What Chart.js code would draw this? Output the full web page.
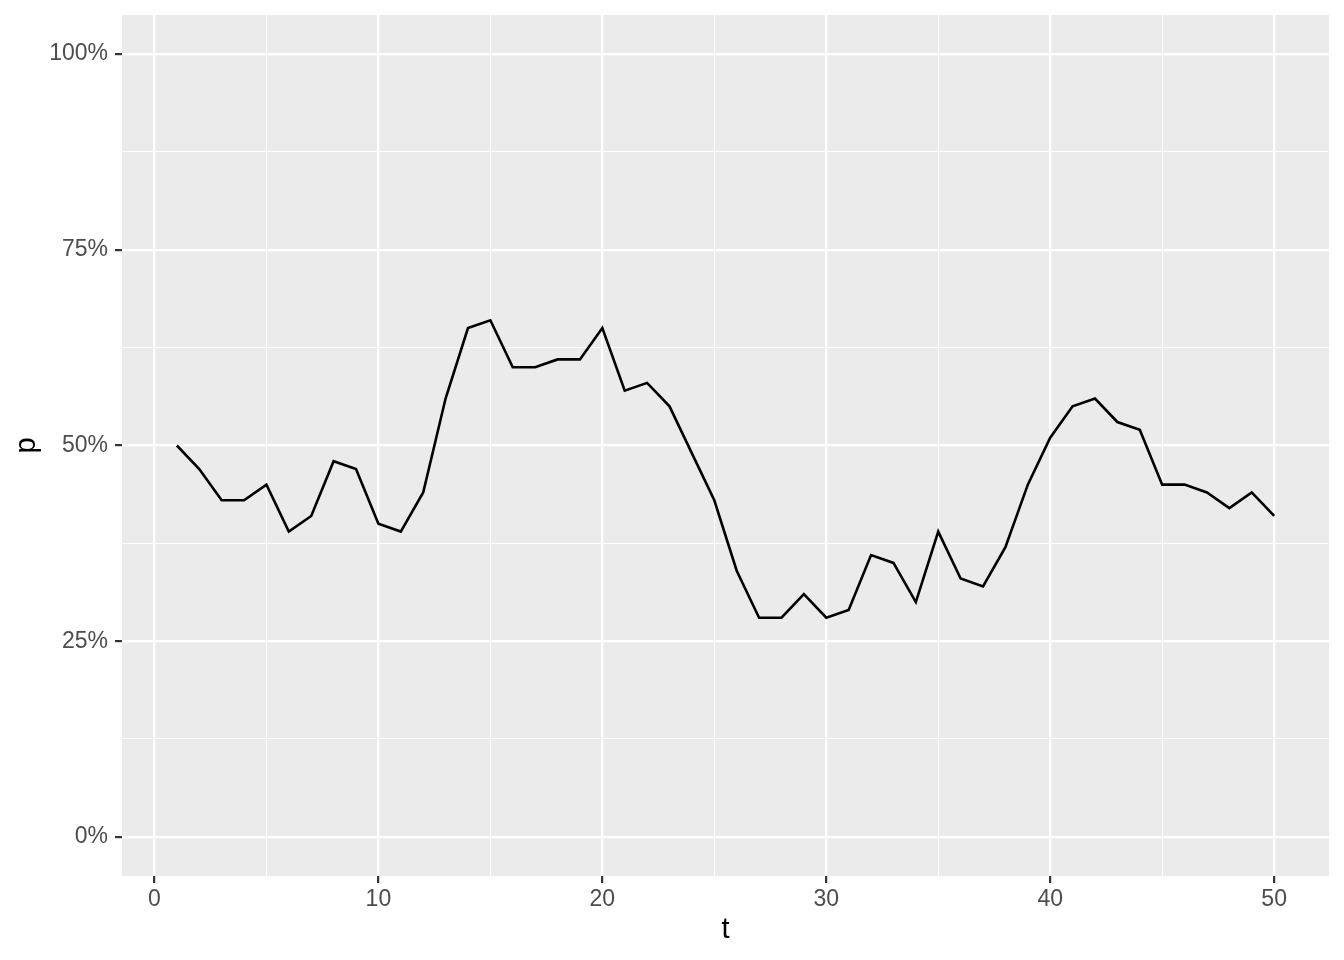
<!DOCTYPE html>
<html>
<head>
<meta charset="utf-8">
<script src="https://cdn.jsdelivr.net/npm/chart.js@4"></script>
<style>
html,body{margin:0;padding:0;background:#fff;}
#wrap{width:1344px;height:960px;}
</style>
</head>
<body>
<div id="wrap"><canvas id="c" width="1344" height="960"></canvas></div>
<script>
const tValues = [1,2,3,4,5,6,7,8,9,10,11,12,13,14,15,16,17,18,19,20,21,22,23,24,25,26,27,28,29,30,31,32,33,34,35,36,37,38,39,40,41,42,43,44,45,46,47,48,49,50];
const pValues = [0.50,0.47,0.43,0.43,0.45,0.39,0.41,0.48,0.47,0.40,0.39,0.44,0.56,0.65,0.66,0.60,0.60,0.61,0.61,0.65,0.57,0.58,0.55,0.49,0.43,0.34,0.28,0.28,0.31,0.28,0.29,0.36,0.35,0.30,0.39,0.33,0.32,0.37,0.45,0.51,0.55,0.56,0.53,0.52,0.45,0.45,0.44,0.42,0.44,0.41];
const xMajorTicks = [0,10,20,30,40,50];
const xMinorTicks = [5,15,25,35,45];
const yMajorTicks = [0,0.25,0.5,0.75,1];
const yMinorTicks = [0.125,0.375,0.625,0.875];
const xTitle = 't';
const yTitle = 'p';

const points = tValues.map((t,i)=>({x:t,y:pValues[i]}));

const panelBg = {
  id:'panelBg',
  beforeDraw(chart){
    const {ctx, chartArea:a} = chart;
    ctx.save();
    ctx.fillStyle = '#EBEBEB';
    ctx.fillRect(a.left, a.top, a.right-a.left, a.bottom-a.top);
    ctx.restore();
  }
};

function isMajor(list, v){ return list.some(m => Math.abs(m - v) < 1e-9); }

new Chart(document.getElementById('c'), {
  type:'line',
  data:{datasets:[{
    data: points,
    borderColor:'#000000',
    borderWidth:2.6,
    pointRadius:0,
    pointHoverRadius:0,
    tension:0,
    fill:false
  }]},
  options:{
    responsive:false,
    animation:false,
    events:[],
    layout:{padding:{left:0,top:15,right:15,bottom:0}},
    plugins:{legend:{display:false},tooltip:{enabled:false}},
    scales:{
      x:{
        type:'linear',
        min:-1.45, max:52.45,
        afterBuildTicks(s){ s.ticks = xMajorTicks.concat(xMinorTicks).sort((a,b)=>a-b).map(v=>({value:v})); },
        afterFit(s){ s.height = 84; s.paddingLeft = 0; s.paddingRight = 0; },
        border:{display:false},
        grid:{
          color:'#FFFFFF',
          lineWidth:(c)=> isMajor(xMajorTicks, c.tick.value) ? 2.2 : 1.1,
          tickColor:(c)=> isMajor(xMajorTicks, c.tick.value) ? '#333333' : 'rgba(0,0,0,0)',
          tickWidth:2.2,
          tickLength:7,
          drawTicks:true
        },
        ticks:{
          autoSkip:false,
          maxRotation:0,
          padding:3,
          color:'#4D4D4D',
          font:{family:'"Liberation Sans", Arial, sans-serif', size:23},
          callback:(v)=> isMajor(xMajorTicks, v) ? String(v) : ''
        },
        title:{display:true,text:xTitle,color:'#000000',
          font:{family:'"Liberation Sans", Arial, sans-serif', size:29},
          padding:{top:0,bottom:12.6}}
      },
      y:{
        type:'linear',
        min:-0.05, max:1.05,
        afterBuildTicks(s){ s.ticks = yMajorTicks.concat(yMinorTicks).sort((a,b)=>a-b).map(v=>({value:v})); },
        afterFit(s){ s.width = 122; s.paddingTop = 0; s.paddingBottom = 0; },
        border:{display:false},
        grid:{
          color:'#FFFFFF',
          lineWidth:(c)=> isMajor(yMajorTicks, c.tick.value) ? 2.2 : 1.1,
          tickColor:(c)=> isMajor(yMajorTicks, c.tick.value) ? '#333333' : 'rgba(0,0,0,0)',
          tickWidth:2.2,
          tickLength:7,
          drawTicks:true
        },
        ticks:{
          autoSkip:false,
          padding:7,
          color:'#4D4D4D',
          font:{family:'"Liberation Sans", Arial, sans-serif', size:23},
          callback:(v)=> isMajor(yMajorTicks, v) ? Math.round(v*100)+'%' : ''
        },
        title:{display:true,text:yTitle,color:'#000000',
          font:{family:'"Liberation Sans", Arial, sans-serif', size:29},
          padding:{top:9.6,bottom:0}}
      }
    }
  },
  plugins:[panelBg]
});
</script>
</body>
</html>
